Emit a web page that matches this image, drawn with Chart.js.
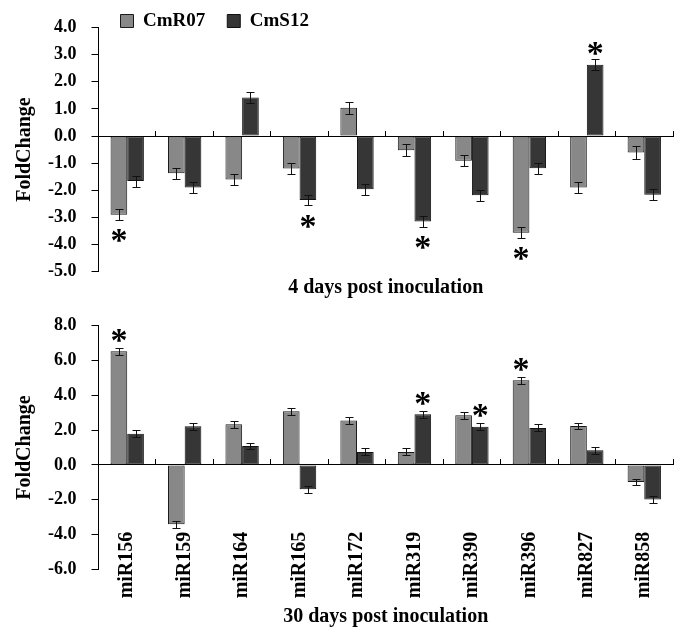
<!DOCTYPE html>
<html>
<head>
<meta charset="utf-8">
<script src="https://cdn.jsdelivr.net/npm/chart.js@4.4.1/dist/chart.umd.min.js"></script>
<style>
  html, body { margin: 0; padding: 0; background: #fff; }
  #wrap { position: relative; width: 680px; height: 632px; }
  canvas { position: absolute; left: 0; }
  #early { top: 0; }
  #late { top: 300px; }
</style>
</head>
<body>
<div id="wrap">
  <canvas id="early" width="680" height="300"></canvas>
  <canvas id="late" width="680" height="332"></canvas>
</div>
<script>
// categories
const mirnas = ['miR156', 'miR159', 'miR164', 'miR165', 'miR172', 'miR319', 'miR390', 'miR396', 'miR827', 'miR858'];

// 4 days post inoculation
const earlyR07 = [-2.90, -1.37, -1.60, -1.20, 1.04, -0.52, -0.91, -3.56, -1.90, -0.61];
const earlyS12 = [-1.66, -1.90, 1.42, -2.36, -1.96, -3.15, -2.18, -1.19, 2.63, -2.16];
const earlyErrR07 = [0.20, 0.20, 0.20, 0.20, 0.21, 0.23, 0.21, 0.20, 0.20, 0.25];
const earlyErrS12 = [0.20, 0.20, 0.21, 0.20, 0.20, 0.20, 0.20, 0.20, 0.20, 0.20];
const earlyStarR07 = [1, 0, 0, 0, 0, 0, 0, 1, 0, 0];
const earlyStarS12 = [0, 0, 0, 1, 0, 1, 0, 0, 1, 0];
const earlyTicks = [-5, 4, 1];

// 30 days post inoculation
const lateR07 = [6.53, -3.41, 2.34, 3.08, 2.55, 0.75, 2.85, 4.87, 2.24, -0.98];
const lateS12 = [1.80, 2.22, 1.09, -1.40, 0.75, 2.91, 2.20, 2.13, 0.84, -1.99];
const lateErrR07 = [0.21, 0.20, 0.20, 0.20, 0.20, 0.20, 0.20, 0.20, 0.20, 0.20];
const lateErrS12 = [0.20, 0.20, 0.20, 0.20, 0.20, 0.20, 0.20, 0.20, 0.20, 0.20];
const lateStarR07 = [1, 0, 0, 0, 0, 0, 0, 1, 0, 0];
const lateStarS12 = [0, 0, 0, 0, 0, 1, 1, 0, 0, 0];
const lateTicks = [-6, 8, 2];

const serif = '"Liberation Serif", "Times New Roman", serif';
Chart.defaults.font.family = serif;
Chart.defaults.font.weight = 'bold';
Chart.defaults.color = '#000';

// error bars and significance stars on top of the bars
const errorBarsAndStars = {
  id: 'errorBarsAndStars',
  afterDatasetsDraw(chart) {
    const ctx = chart.ctx;
    const y = chart.scales.y;
    ctx.save();
    chart.data.datasets.forEach((ds, i) => {
      const meta = chart.getDatasetMeta(i);
      meta.data.forEach((bar, j) => {
        const v = ds.data[j];
        const e = ds.errors[j];
        const x = Math.round(bar.x) + 0.5;
        const hi = Math.round(y.getPixelForValue(v + e)) + 0.5;
        const lo = Math.round(y.getPixelForValue(v - e)) + 0.5;
        ctx.strokeStyle = '#111';
        ctx.lineWidth = 1;
        ctx.beginPath();
        ctx.moveTo(x, hi); ctx.lineTo(x, lo);
        ctx.moveTo(x - 4, hi); ctx.lineTo(x + 4, hi);
        ctx.moveTo(x - 4, lo); ctx.lineTo(x + 4, lo);
        ctx.stroke();
        if (ds.stars[j]) {
          const end = y.getPixelForValue(v);
          const cy = v >= 0 ? end - 16 : end + 21;
          ctx.font = 'bold 34px ' + serif;
          ctx.fillStyle = '#000';
          ctx.textAlign = 'center';
          ctx.textBaseline = 'alphabetic';
          const m = ctx.measureText('*');
          const base = cy + (m.actualBoundingBoxAscent - m.actualBoundingBoxDescent) / 2;
          ctx.fillText('*', bar.x, base);
        }
      });
    });
    ctx.restore();
  }
};

// move the legend row up, next to the top of the y axis
const legendSpot = {
  id: 'legendSpot',
  afterLayout(chart) {
    const lg = chart.legend;
    if (!lg) return;
    lg.top = -10.5;
    lg.bottom = lg.top + 60;
  }
};

function makeChart(canvasId, r07, s12, errR07, errS12, starR07, starS12, ticks, opts) {
  const ctx = document.getElementById(canvasId).getContext('2d');
  return new Chart(ctx, {
    type: 'bar',
    data: {
      labels: mirnas,
      datasets: [
        { label: 'CmR07', data: r07, errors: errR07, stars: starR07,
          backgroundColor: '#888888', borderColor: '#1a1a1a', borderWidth: 1, borderSkipped: false },
        { label: 'CmS12', data: s12, errors: errS12, stars: starS12,
          backgroundColor: '#363636', borderColor: '#111111', borderWidth: 1, borderSkipped: false }
      ]
    },
    options: {
      responsive: false,
      animation: false,
      layout: { padding: { top: opts.top, right: 7, left: 0, bottom: 0 } },
      datasets: { bar: { categoryPercentage: 0.58, barPercentage: 1 } },
      plugins: {
        tooltip: { enabled: false },
        legend: {
          display: opts.legend,
          position: 'top',
          align: 'start',
          fullSize: false,
          maxHeight: 27.5,
          labels: { boxWidth: 13, boxHeight: 13, padding: 22, font: { size: 19, weight: 'bold' } }
        }
      },
      scales: {
        x: {
          grid: { display: false, drawTicks: false },
          border: { display: false },
          ticks: { display: false },
          title: { display: true, text: opts.title, font: { size: 20, weight: 'bold' }, padding: { top: 0, bottom: opts.titlePad } },
          afterFit: s => { s.height = opts.xHeight; }
        },
        // zero line with its small marks between the categories
        x0: {
          axis: 'x',
          type: 'category',
          position: { y: 0 },
          offset: true,
          grid: { offset: true, drawOnChartArea: false, drawTicks: true, tickLength: -6, color: '#000', tickColor: '#000' },
          border: { display: true, color: '#000', width: 1 },
          ticks: { display: false },
          afterFit: s => { s.height = 0; }
        },
        // category names, standing up from the foot of the plot
        xl: {
          axis: 'x',
          type: 'category',
          display: opts.showLabels,
          position: { y: ticks[0] },
          offset: true,
          grid: { display: false, drawTicks: false },
          border: { display: false },
          ticks: {
            autoSkip: false,
            minRotation: 90,
            maxRotation: 90,
            padding: -37.6,
            font: { size: 20, weight: 'bold' }
          },
          afterFit: s => { s.height = 0; }
        },
        y: {
          min: ticks[0],
          max: ticks[1],
          ticks: {
            stepSize: ticks[2],
            autoSkip: false,
            padding: 15,
            font: { size: 18, weight: 'bold' },
            callback: v => Number(v).toFixed(1)
          },
          grid: { drawOnChartArea: false, drawTicks: true, tickLength: 7, color: '#000', tickColor: '#000' },
          border: { display: true, color: '#000', width: 1 },
          title: { display: true, text: 'FoldChange', font: { size: 20, weight: 'bold' }, padding: { top: 13, bottom: 0 } },
          afterFit: s => { s.width = 98.5; }
        }
      }
    },
    plugins: opts.legend ? [errorBarsAndStars, legendSpot] : [errorBarsAndStars]
  });
}

makeChart('early', earlyR07, earlyS12, earlyErrR07, earlyErrS12, earlyStarR07, earlyStarS12, earlyTicks,
  { top: 0, legend: true, showLabels: false, title: '4 days post inoculation', titlePad: 0, xHeight: 28.3 });
makeChart('late', lateR07, lateS12, lateErrR07, lateErrS12, lateStarR07, lateStarS12, lateTicks,
  { top: 25.7, legend: false, showLabels: true, title: '30 days post inoculation', titlePad: 3, xHeight: 62.7 });
</script>
</body>
</html>
